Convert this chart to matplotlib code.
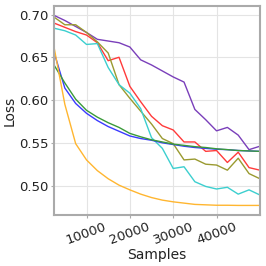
import matplotlib
matplotlib.use("Agg")
import matplotlib.pyplot as plt
import numpy as np

samples = np.arange(2500, 50001, 2500)

purple = [0.699, 0.693, 0.686, 0.679, 0.671, 0.669, 0.667, 0.662, 0.647, 0.641,
          0.634, 0.627, 0.621, 0.589, 0.577, 0.564, 0.568, 0.559, 0.542, 0.546]
red = [0.690, 0.685, 0.680, 0.676, 0.667, 0.646, 0.650, 0.616, 0.598, 0.581,
       0.570, 0.565, 0.551, 0.551, 0.540, 0.541, 0.527, 0.539, 0.521, 0.518]
olive = [0.697, 0.688, 0.688, 0.679, 0.668, 0.655, 0.618, 0.602, 0.587, 0.572,
         0.555, 0.549, 0.530, 0.531, 0.525, 0.524, 0.518, 0.532, 0.514, 0.508]
cyan = [0.684, 0.681, 0.676, 0.665, 0.666, 0.638, 0.618, 0.608, 0.590, 0.556,
        0.5435, 0.520, 0.522, 0.5045, 0.499, 0.496, 0.498, 0.490, 0.495, 0.489]
blue = [0.656, 0.614, 0.596, 0.5845, 0.576, 0.569, 0.5635, 0.558, 0.555, 0.553,
        0.550, 0.548, 0.546, 0.5445, 0.5435, 0.5425, 0.542, 0.541, 0.5405, 0.540]
green = [0.641, 0.620, 0.601, 0.588, 0.580, 0.5735, 0.568, 0.561, 0.557, 0.5535,
         0.551, 0.5485, 0.547, 0.5455, 0.5445, 0.543, 0.542, 0.541, 0.5405, 0.540]
orange = [0.662, 0.595, 0.549, 0.530, 0.5175, 0.508, 0.5005, 0.495, 0.490, 0.486,
          0.483, 0.481, 0.4795, 0.478, 0.4775, 0.477, 0.477, 0.4768, 0.4768, 0.4768]

xticks = [10000, 20000, 30000, 40000]
yticks = [0.50, 0.55, 0.60, 0.65, 0.70]

series = [
    (purple, '#7a3fba'),
    (red, '#ff3a3a'),
    (olive, '#9a9a30'),
    (cyan, '#3ccfcf'),
    (blue, '#3a3aff'),
    (green, '#3a9a3a'),
    (orange, '#ffb630'),
]

fig = plt.figure(figsize=(2.66, 2.66), dpi=100)
ax = fig.add_axes([0.203, 0.192, 0.774, 0.786])
for vals, c in series:
    ax.plot(samples, vals, color=c, lw=1.0)

ax.set_xlim(samples[0], samples[-1])
ax.margins(y=0.05)
ax.set_xticks(xticks)
ax.set_xticklabels([str(t) for t in xticks], rotation=20, ha='center', fontsize=9.5, color='#222222')
ax.set_yticks(yticks)
ax.set_yticklabels([f"{t:.2f}" for t in yticks], fontsize=9.5, color='#222222')
ax.grid(True, color='#e4e4e4', lw=0.8)
ax.set_axisbelow(True)
for s in ax.spines.values():
    s.set_color('#aaaaaa')
    s.set_linewidth(1.5)
ax.tick_params(length=2, color='#aaaaaa', pad=2)
ax.set_xlabel('Samples', fontsize=10, color='#222222', labelpad=1)
ax.set_ylabel('Loss', fontsize=10, color='#222222', labelpad=2)

fig.savefig('out.png', dpi=100)
